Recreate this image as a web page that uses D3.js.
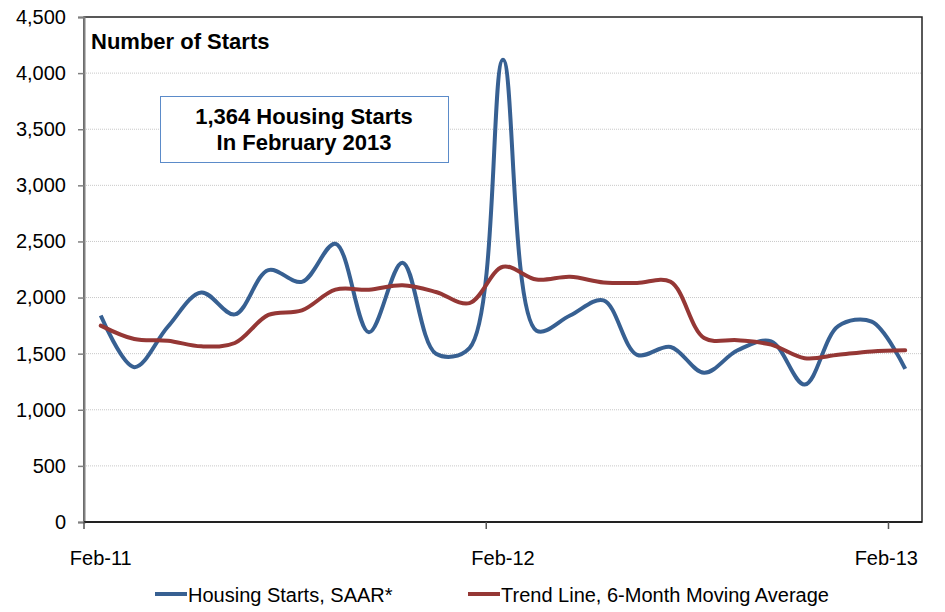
<!DOCTYPE html>
<html>
<head>
<meta charset="utf-8">
<script src="https://cdn.jsdelivr.net/npm/d3@7"></script>
<style>
  body { margin: 0; background: #fff; }
  svg { font-family: "Liberation Sans", Arial, sans-serif; }
</style>
</head>
<body>
<svg id="chart" width="945" height="612"></svg>
<script>
// months, Feb-11 through Feb-13
const months = ["Feb-11","Mar-11","Apr-11","May-11","Jun-11","Jul-11","Aug-11","Sep-11","Oct-11","Nov-11","Dec-11","Jan-12",
                "Feb-12","Mar-12","Apr-12","May-12","Jun-12","Jul-12","Aug-12","Sep-12","Oct-12","Nov-12","Dec-12","Jan-13","Feb-13"];

// Housing starts, SAAR*
const starts = [1840, 1380, 1740, 2045, 1850, 2245, 2140, 2480, 1690, 2310, 1500, 1550,
                4120, 1705, 1840, 1975, 1490, 1560, 1330, 1530, 1610, 1225, 1745, 1785, 1364];

// 6-month moving average
const trend = [1750, 1630, 1615, 1565, 1595, 1845, 1885, 2070, 2070, 2110, 2050, 1950,
               2275, 2160, 2185, 2135, 2130, 2140, 1640, 1620, 1580, 1460, 1490, 1520, 1530];

const yTicks = [0, 500, 1000, 1500, 2000, 2500, 3000, 3500, 4000, 4500];
const xLabels = ["Feb-11", "Feb-12", "Feb-13"];

const svg = d3.select("#chart");
const plotL = 84, plotR = 922, plotT = 17, plotB = 522;

const x = d3.scaleBand().domain(months).range([plotL, plotR]).padding(0);
const bw = x.bandwidth();
const y = d3.scaleLinear().domain([0, 4500]).range([plotB, plotT]);

// gridlines
svg.append("g")
  .selectAll("line")
  .data(yTicks.filter(d => d > 0 && d < 4500))
  .enter().append("line")
    .attr("x1", plotL).attr("x2", plotR)
    .attr("y1", d => y(d)).attr("y2", d => y(d))
    .attr("stroke", "#c8c8c8")
    .attr("stroke-width", 1)
    .attr("stroke-dasharray", "1,1");

// plot border
svg.append("rect")
  .attr("x", plotL).attr("y", plotT)
  .attr("width", plotR - plotL).attr("height", plotB - plotT)
  .attr("fill", "none")
  .attr("stroke", "#222")
  .attr("stroke-width", 1.5);

// y axis
const yAxis = svg.append("g")
  .attr("transform", "translate(" + plotL + ",0)")
  .call(d3.axisLeft(y).tickValues(yTicks).tickFormat(d3.format(",")).tickSize(6).tickPadding(12));
yAxis.select(".domain").attr("stroke", "#808080").attr("stroke-width", 2);
yAxis.selectAll(".tick line").attr("stroke", "#808080").attr("stroke-width", 1.5);
yAxis.selectAll("text").attr("font-size", 20).attr("fill", "#000")
  .attr("font-family", "Liberation Sans, Arial, sans-serif");

// x axis baseline
svg.append("line")
  .attr("x1", plotL).attr("x2", plotR)
  .attr("y1", plotB).attr("y2", plotB)
  .attr("stroke", "#111").attr("stroke-width", 1.5);

// x ticks at category boundaries
svg.append("g")
  .selectAll("line")
  .data(xLabels)
  .enter().append("line")
    .attr("x1", d => x(d)).attr("x2", d => x(d))
    .attr("y1", plotB).attr("y2", plotB + 7)
    .attr("stroke", "#555").attr("stroke-width", 1.5);

// x labels centred on category, kept inside the plot width
svg.append("g")
  .selectAll("text")
  .data(xLabels)
  .enter().append("text")
    .attr("y", 565)
    .attr("font-size", 20)
    .attr("text-anchor", "middle")
    .text(d => d)
    .each(function(d) {
      const w = this.getComputedTextLength();
      let cx = x(d) + bw / 2;
      if (cx + w / 2 > plotR - 4) cx = plotR - 4 - w / 2;
      d3.select(this).attr("x", cx);
    });

// lines
const line = d3.line()
  .x((d, i) => x(months[i]) + bw / 2)
  .y(d => y(d))
  .curve(d3.curveCatmullRom.alpha(0.5));

svg.append("path")
  .datum(starts)
  .attr("fill", "none")
  .attr("stroke", "#376092")
  .attr("stroke-width", 4)
  .attr("stroke-linejoin", "round")
  .attr("d", line);

svg.append("path")
  .datum(trend)
  .attr("fill", "none")
  .attr("stroke", "#953735")
  .attr("stroke-width", 4)
  .attr("stroke-linecap", "round")
  .attr("stroke-linejoin", "round")
  .attr("d", line);

// axis title inside plot
svg.append("text")
  .attr("x", 91).attr("y", 49)
  .attr("font-size", 22)
  .attr("font-weight", 700)
  .text("Number of Starts");

// annotation box
svg.append("rect")
  .attr("x", 160.5).attr("y", 96.5)
  .attr("width", 288).attr("height", 66)
  .attr("fill", "#fff")
  .attr("stroke", "#5b8bc9")
  .attr("stroke-width", 1);
svg.append("text")
  .attr("x", 304).attr("y", 124)
  .attr("text-anchor", "middle")
  .attr("font-size", 22).attr("font-weight", 700)
  .text("1,364 Housing Starts");
svg.append("text")
  .attr("x", 304).attr("y", 150)
  .attr("text-anchor", "middle")
  .attr("font-size", 22).attr("font-weight", 700)
  .text("In February 2013");

// legend
const legend = [
  {name: "Housing Starts, SAAR*", color: "#376092", x: 155},
  {name: "Trend Line, 6-Month Moving Average", color: "#953735", x: 468}
];
const lg = svg.append("g").selectAll("g").data(legend).enter().append("g");
lg.append("line")
  .attr("x1", d => d.x).attr("x2", d => d.x + 32)
  .attr("y1", 594).attr("y2", 594)
  .attr("stroke", d => d.color).attr("stroke-width", 4);
lg.append("text")
  .attr("x", d => d.x + 33).attr("y", 602)
  .attr("font-size", 20)
  .text(d => d.name);
</script>
</body>
</html>
